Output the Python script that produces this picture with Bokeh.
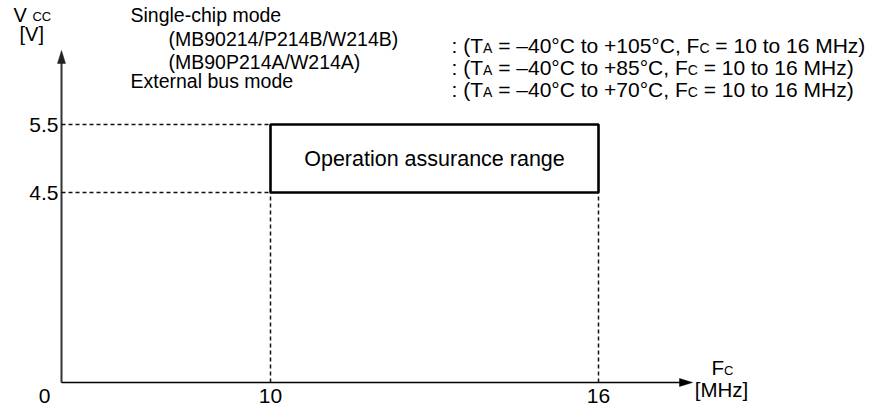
from bokeh.plotting import figure
from bokeh.models import Range1d
from bokeh.embed import file_html
from bokeh.resources import INLINE
from bokeh.core.properties import value

# ---------------- data ----------------
freq_range = [10, 16]            # Fc, MHz
vcc_range = [4.5, 5.5]           # Vcc, V
x_tick_labels = ["10", "16"]
y_tick_labels = ["4.5", "5.5"]
origin_label = "0"
box_label = "Operation assurance range"
mode_lines = ["Single-chip mode", "(MB90214/P214B/W214B)", "(MB90P214A/W214A)", "External bus mode"]
ta_ranges = ["\u201340\u00b0C to +105\u00b0C", "\u201340\u00b0C to +85\u00b0C", "\u201340\u00b0C to +70\u00b0C"]
fc_span = "10 to 16 MHz"

# ---------------- layout ----------------
FONT = "Liberation Sans"
W, H = 872, 408
PX_A, PX_B = 270, 598          # canvas px of freq_range ends
PY_A, PY_B = 124, 192          # canvas px of vcc_range top / bottom
sx = (PX_B - PX_A) / (freq_range[1] - freq_range[0])
sy = (PY_B - PY_A) / (vcc_range[1] - vcc_range[0])
x0 = freq_range[0] - PX_A / sx
x1 = x0 + W / sx
y1 = vcc_range[1] + PY_A / sy
y0 = y1 - H / sy


def dx(c):
    return x0 + c / sx


def dy(c):
    return y1 - c / sy


ORG_X, ORG_Y = 61, 382          # axis origin, canvas px
ox, oy = dx(ORG_X), dy(ORG_Y)

# Arial / Liberation Sans advance widths (1/1000 em)
AW = {' ': 278, ':': 278, '(': 333, ')': 333, 'T': 611, 'A': 667, '=': 584, '\u2013': 556,
      '\u00b0': 400, 'C': 722, 't': 278, 'o': 556, '+': 584, ',': 278, 'F': 611, 'M': 833,
      'H': 722, 'z': 500, 'V': 667, 'c': 500}
for d in "0123456789":
    AW[d] = 556


def width(s, size):
    return sum(AW.get(ch, 556) for ch in s) * size / 1000.0


p = figure(width=W, height=H, output_backend="svg", toolbar_location=None,
           x_range=Range1d(x0, x1), y_range=Range1d(y0, y1),
           x_axis_type=None, y_axis_type=None, min_border=0)
p.outline_line_color = None
p.grid.visible = False
p.background_fill_color = "white"
p.border_fill_color = "white"

AX = "#111111"
# axes
p.line([ox, ox], [oy, dy(58)], line_color="#333333", line_width=2)
p.line([ox, dx(682)], [oy, oy], line_color="black", line_width=1.5)
# arrow heads
p.patch([ox, dx(ORG_X - 4), dx(ORG_X + 4)], [dy(50), dy(63), dy(63)],
        color="#222222", line_width=0.5)
p.patch([dx(692), dx(679), dx(679)], [oy, dy(ORG_Y - 4), dy(ORG_Y + 4)],
        color="black", line_width=0.5)

# dashed guides
p.multi_line([[ox, freq_range[0]] for _ in vcc_range], [[v, v] for v in vcc_range],
             line_color=AX, line_width=1.5, line_dash="4 3")
p.multi_line([[f, f] for f in freq_range], [[oy, vcc_range[0]] for _ in freq_range],
             line_color=AX, line_width=1.5, line_dash="4 3")

# operation range box
p.quad(left=[freq_range[0]], right=[freq_range[1]], bottom=[vcc_range[0]], top=[vcc_range[1]],
       fill_color=None, line_color="black", line_width=2.6)
p.text(x=[sum(freq_range) / 2], y=[sum(vcc_range) / 2], text=[box_label],
       text_font=value(FONT), text_font_size="21.5px", text_align="center",
       text_baseline="middle", text_color="black")

# tick labels
TICK = "21px"
p.text(x=[ox] * 2, y=vcc_range, text=y_tick_labels, x_offset=-3,
       text_font=value(FONT), text_font_size=TICK, text_align="right",
       text_baseline="middle", text_color="black")
p.text(x=freq_range, y=[oy] * 2, text=x_tick_labels, y_offset=13,
       text_font=value(FONT), text_font_size=TICK, text_align="center",
       text_baseline="middle", text_color="black")
p.text(x=[ox], y=[oy], text=[origin_label], x_offset=-17, y_offset=13,
       text_font=value(FONT), text_font_size=TICK, text_align="center",
       text_baseline="middle", text_color="black")

K_MID = 0.35   # central baseline height above alphabetic baseline (em)


def runs(cx, cy_mid, parts, big):
    """parts: list of (text, size); drawn left-aligned on a shared baseline.
    cy_mid is the central line of the big-size text (canvas px)."""
    off = 0.0
    xs, offs, yoffs, txt, sizes = [], [], [], [], []
    for t, s in parts:
        lead = len(t) - len(t.lstrip(" "))
        core = t.strip(" ")
        xs.append(dx(cx))
        offs.append(off + width(" " * lead, s))
        yoffs.append(K_MID * (big - s))
        txt.append(core)
        sizes.append(f"{s}px")
        off += width(t, s)
    p.text(x=xs, y=[dy(cy_mid)] * len(xs), text=txt, x_offset=offs, y_offset=yoffs,
           text_font=value(FONT), text_font_size=sizes, text_align="left",
           text_baseline="middle", text_color="black")


# axis titles
runs(13, 14, [("V ", 20), ("CC", 13)], 20)
runs(19, 33, [("[V]", 20)], 20)
runs(711, 367, [("F", 20.5), ("C", 13)], 20.5)
p.text(x=[dx(721)], y=[dy(389)], text=["[MHz]"], text_font=value(FONT),
       text_font_size="20.5px", text_align="center", text_baseline="middle",
       text_color="black")

# header
HB = 19.5
runs(130, 14, [(mode_lines[0], HB)], HB)
runs(168, 38, [(mode_lines[1], HB)], HB)
runs(168, 61, [(mode_lines[2], HB)], HB)
runs(130, 80, [(mode_lines[3], HB)], HB)
RB, RS = 21, 14
for i, ta in enumerate(ta_ranges):
    runs(451, 45 + 22 * i, [(": (T", RB), ("A", RS), (" = " + ta + ", F", RB),
                             ("C", RS), (" = " + fc_span + ")", RB)], RB)

open("out.html", "w").write(file_html(p, INLINE))
